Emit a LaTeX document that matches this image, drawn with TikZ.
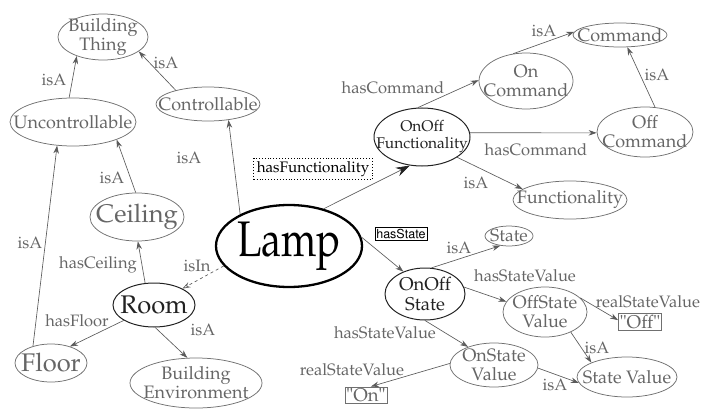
\documentclass[tikz,border=0pt]{standalone}
\usepackage[T1]{fontenc}
\usepackage{mathpazo}
\usetikzlibrary{shapes.geometric,arrows.meta}
\definecolor{bgray}{HTML}{707070}
\definecolor{tgray}{HTML}{666666}
\definecolor{lgray}{HTML}{5A5A5A}
\definecolor{dk}{HTML}{222222}
\begin{document}
\begin{tikzpicture}[x=1pt,y=-1pt,
  ell/.style={ellipse, draw=bgray, line width=0.75pt, inner sep=0pt},
  dell/.style={ellipse, draw=dk, line width=1pt, inner sep=0pt},
  nt/.style={text=tgray, font=\fontsize{18}{19}\selectfont, align=center, inner sep=0pt},
  bnt/.style={text=tgray, font=\fontsize{25.5}{26}\selectfont, align=center, inner sep=0pt},
  dnt/.style={text=dk, font=\fontsize{18.5}{19.5}\selectfont, align=center, inner sep=0pt},
  lab/.style={text=tgray, font=\fontsize{16.5}{17}\selectfont, inner sep=0pt},
  arr/.style={draw=lgray, line width=0.65pt, -{Stealth[length=8pt,width=5.5pt]}},
  bigarr/.style={draw=lgray, line width=0.65pt, -{Stealth[length=14pt,width=9pt,color=dk]}},
  vbox/.style={rectangle, draw=bgray, line width=0.7pt, text=tgray, font=\fontsize{18.5}{19}\selectfont, inner sep=1.5pt}
]
\path[use as bounding box] (0,0) rectangle (703,409);

% nodes
\node[ell, minimum width=90pt, minimum height=46pt, label={[nt]center:Building\\Thing}] (bt) at (103,37) {};
\node[ell, minimum width=104pt, minimum height=34pt, label={[nt]center:Controllable}] (ctl) at (208,104) {};
\node[ell, minimum width=126pt, minimum height=48pt, label={[nt]center:Uncontrollable}] (unc) at (73,122) {};
\node[ell, minimum width=94pt, minimum height=48pt, label={[bnt]center:Ceiling}] (ceil) at (137,217) {};
\node[dell, minimum width=82pt, minimum height=44pt, label={[bnt,text=dk]center:Room}] (room) at (154,305) {};
\node[ell, minimum width=72pt, minimum height=38pt, label={[bnt]center:Floor}] (floor) at (51,363) {};
\node[ell, minimum width=132pt, minimum height=50pt, label={[nt]center:Building\\Environment}] (benv) at (196,383) {};
\node[ellipse, draw=black, line width=2.3pt, inner sep=0pt, minimum width=146pt, minimum height=82pt,
      label={[text=black, font=\fontsize{50}{50}\selectfont, inner sep=0pt]center:\scalebox{0.8}[1]{Lamp}}] (lamp) at (289,246) {};
\node[dell, minimum width=96pt, minimum height=58pt, label={[dnt,font=\fontsize{15.5}{17}\selectfont]center:OnOff\\Functionality}] (onofff) at (422,137) {};
\node[ell, minimum width=94pt, minimum height=56pt, label={[nt]center:On\\Command}] (oncmd) at (526,81) {};
\node[ell, minimum width=94pt, minimum height=24pt, label={[nt]center:Command}] (cmd) at (620,35) {};
\node[ell, minimum width=96pt, minimum height=50pt, label={[nt]center:Off\\Command}] (offcmd) at (645,132) {};
\node[ell, minimum width=114pt, minimum height=38pt, label={[nt]center:Functionality}] (func) at (570,200) {};
\node[ell, minimum width=48pt, minimum height=20pt, label={[nt,font=\fontsize{17.5}{18}\selectfont]center:State}] (state) at (509,236) {};
\node[dell, minimum width=80pt, minimum height=52pt, label={[dnt]center:OnOff\\State}] (onoffs) at (425,294) {};
\node[ell, minimum width=84pt, minimum height=50pt, label={[nt]center:OffState\\Value}] (offsv) at (545,312) {};
\node[ell, minimum width=88pt, minimum height=44pt, label={[nt]center:OnState\\Value}] (onsv) at (494,365) {};
\node[ell, minimum width=100pt, minimum height=40pt, label={[nt]center:State Value}] (sv) at (627,377) {};
\node[vbox] (offbox) at (640,322) {"Off"};
\node[vbox] (onbox) at (366,395) {"On"};

% edges
\draw[arr] (unc.99) -- (bt.216);
\draw[arr] (ctl.157) -- (bt.338);
\draw[arr] (lamp.147) -- (ctl.322);
\draw[arr] (ceil.93) -- (unc.338);
\draw[arr] (floor.137) -- (unc.236);
\draw[arr] (room.112) -- (ceil.272);
\draw[draw=lgray, line width=0.65pt, dashed, -{Stealth[length=8pt,width=5.5pt,open]}] (lamp.197) -- (room.30);
\draw[arr] (room.207) -- (floor.41);
\draw[arr] (room.273) -- (benv.109);
\draw[bigarr] (lamp.47) -- (onofff.247);
\draw[arr] (onofff.98) -- (oncmd.179);
\draw[arr] (oncmd.115) -- (cmd.176);
\draw[arr] (offcmd.68) -- (cmd.301);
\draw[arr] (onofff.5) -- (offcmd.181);
\draw[arr] (onofff.330) -- (func.167);
\draw[arr] (lamp.7) -- (onoffs.134);
\draw[arr] (onoffs.76) -- (state.228);
\draw[arr] (onoffs.10) -- (offsv.165);
\draw[arr] (onoffs.270) -- (onsv.145);
\draw[arr] (offsv.22) -- (offbox.175);
\draw[arr] (offsv.322) -- (sv.158);
\draw[arr] (onsv.178) -- (onbox.60);
\draw[arr] (onsv.356) -- (sv.187);

% labels
\node[lab] (l1) at (54,80) {isA};
\node[lab] (l2) at (166,63) {isA};
\node[lab] (l3) at (189,158) {isA};
\node[lab] (l4) at (112,178) {isA};
\node[lab] (l5) at (30,243) {isA};
\node[lab] (l6) at (98,265) {hasCeiling};
\node[lab] (l7) at (197,266) {isIn};
\node[lab] (l8) at (77,321) {hasFloor};
\node[lab] (l9) at (203,330) {isA};
\node[lab] (l10) at (393,88) {hasCommand};
\node[lab] (l11) at (544,31) {isA};
\node[lab] (l12) at (657,75) {isA};
\node[lab] (l13) at (536,150) {hasCommand};
\node[lab] (l14) at (476,183) {isA};
\node[lab] (l15) at (459,248) {isA};
\node[lab] (l16) at (525,276) {hasStateValue};
\node[lab] (l17) at (648,302) {realStateValue};
\node[lab] (l18) at (385,333) {hasStateValue};
\node[lab] (l19) at (597,348) {isA};
\node[lab] (l20) at (352,370) {realStateValue};
\node[lab] (l21) at (555,385) {isA};
\node[rectangle, draw=black, dotted, line width=0.9pt, text=black, font=\fontsize{15.2}{16}\selectfont, inner sep=3pt] (hf) at (313,169) {hasFunctionality};
\node[rectangle, draw=black, line width=0.6pt, text=black, font=\fontfamily{phv}\fontsize{12.5}{13}\selectfont, inner sep=1.5pt] (hs) at (401,234) {hasState};
\end{tikzpicture}
\end{document}
